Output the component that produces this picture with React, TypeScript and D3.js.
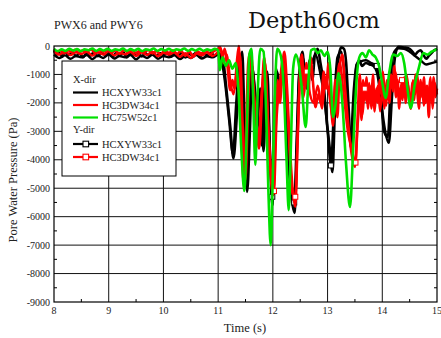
import React from "react";
import * as d3 from "d3";

const W = 441, H = 338;
const M = { left: 54, right: 437, top: 46, bottom: 302 };

const xTicks = [8, 9, 10, 11, 12, 13, 14, 15];
const yTicks = [0, -1000, -2000, -3000, -4000, -5000, -6000, -7000, -8000, -9000];

const blackX: [number, number][] = [
  [8.0,-150],[8.05,-300],[8.1,-250],[8.15,-380],[8.2,-220],[8.27,-320],[8.33,-200],[8.4,-350],[8.47,-260],[8.53,-400],[8.6,-240],[8.67,-330],[8.73,-210],[8.8,-360],[8.87,-250],[8.93,-300],[9.0,-200],[9.07,-380],[9.13,-260],[9.2,-320],[9.27,-230],[9.33,-400],[9.4,-250],[9.47,-300],[9.53,-220],[9.6,-370],[9.67,-260],[9.73,-330],[9.8,-210],[9.87,-390],[9.93,-250],[10.0,-310],[10.07,-230],[10.13,-380],[10.2,-260],[10.27,-340],[10.33,-220],[10.4,-400],[10.47,-280],[10.53,-320],[10.6,-240],[10.67,-380],[10.73,-260],[10.8,-330],[10.87,-230],[10.93,-350],[11.0,-260],
  [11.05,-300],[11.1,-600],[11.15,-1500],[11.22,-2800],[11.28,-3950],[11.34,-2500],[11.39,-800],[11.44,-200],[11.48,-2500],[11.53,-5130],[11.58,-3000],[11.62,-800],[11.67,-1500],[11.72,-2500],[11.77,-1500],[11.83,-3700],[11.88,-1500],[11.92,-2500],[11.95,-4000],[11.99,-5600],[12.03,-3000],[12.06,-800],[12.1,-1800],[12.15,-1200],[12.2,-400],[12.25,-2500],[12.3,-4500],[12.4,-5870],[12.44,-3500],[12.47,-1500],[12.5,-600],[12.54,-200],[12.58,-1000],[12.62,-1500],[12.67,-500],[12.72,-1200],[12.77,-300],[12.82,-100],[12.87,-600],[12.92,-1200],[12.98,-2500],[13.04,-3600],[13.09,-4430],[13.13,-2500],[13.17,-1000],[13.21,-300],[13.25,-50],[13.3,-100],[13.34,-600],[13.38,-2000],[13.43,-3600],[13.48,-2000],[13.53,-700],[13.58,-500],[13.63,-700],[13.7,-600],[13.77,-650],[13.84,-700],[13.9,-900],[13.96,-1600],[14.02,-2600],[14.12,-3400],[14.17,-2000],[14.21,-800],[14.25,-200],[14.3,-30],[14.4,-50],[14.5,-100],[14.55,-200],[14.6,-300],[14.65,-200],[14.7,-150],[14.75,-300],[14.8,-450],[14.85,-350],[14.9,-250],[14.95,-150],[15.0,-100]
];

const redX: [number, number][] = [
  [8.0,-120],[8.06,-200],[8.12,-150],[8.18,-260],[8.25,-140],[8.32,-220],[8.38,-130],[8.45,-240],[8.52,-160],[8.6,-200],[8.68,-120],[8.75,-250],[8.82,-150],[8.9,-210],[8.97,-130],[9.05,-230],[9.12,-160],[9.2,-280],[9.27,-150],[9.35,-200],[9.42,-130],[9.5,-250],[9.57,-170],[9.65,-220],[9.72,-140],[9.8,-260],[9.87,-180],[9.95,-300],[10.02,-160],[10.1,-240],[10.17,-150],[10.25,-280],[10.32,-170],[10.4,-350],[10.47,-190],[10.55,-380],[10.62,-200],[10.7,-260],[10.77,-150],[10.85,-300],[10.92,-180],[11.0,-100],
  [11.04,-50],[11.08,-400],[11.12,-100],[11.17,-700],[11.22,-1550],[11.26,-1200],[11.3,-1500],[11.34,-600],[11.38,0],[11.42,-2500],[11.47,-4880],[11.51,-3000],[11.55,-600],[11.59,-200],[11.64,-1500],[11.7,-2800],[11.75,-3600],[11.8,-1800],[11.84,-400],[11.88,-1500],[11.93,-3500],[11.97,-4800],[12.01,-5240],[12.05,-3000],[12.09,-1200],[12.13,-2000],[12.17,-800],[12.21,-200],[12.26,-1500],[12.31,-3500],[12.36,-5000],[12.41,-5650],[12.45,-3500],[12.49,-1200],[12.53,-300],[12.57,-1400],[12.61,-600],[12.65,-1600],[12.69,-400],[12.73,-1200],[12.78,-2150],[12.83,-1700],[12.88,-2000],[12.93,-900],[12.97,-1500],[13.02,-600],[13.06,-1900],[13.1,-2800],[13.14,-1200],[13.18,-2500],[13.22,-800],[13.27,-300],[13.32,-1500],[13.38,-2800],[13.44,-3800],[13.5,-4250],[13.55,-2500],[13.59,-1000],[13.62,-2600],[13.65,-1200],[13.68,-1900],[13.71,-1100],[13.74,-2200],[13.77,-1400],[13.8,-1800],[13.83,-1000],[13.86,-2300],[13.89,-1500],[13.92,-2000],[13.95,-1200],[13.98,-1700],[14.01,-900],[14.04,-1600],[14.07,-2100],[14.1,-1300],[14.13,-2000],[14.16,-1000],[14.19,-1500],[14.22,-700],[14.25,-1800],[14.28,-1200],[14.31,-2200],[14.34,-1400],[14.37,-1900],[14.4,-1100],[14.43,-2000],[14.46,-1300],[14.49,-1700],[14.52,-2200],[14.55,-1300],[14.58,-1900],[14.61,-1000],[14.64,-1600],[14.67,-2200],[14.7,-1200],[14.73,-1800],[14.76,-1100],[14.79,-2000],[14.82,-1400],[14.85,-2500],[14.88,-1300],[14.91,-2000],[14.94,-1100],[14.97,-1800],[15.0,-1500]
];

const greenX: [number, number][] = [
  [8.0,-100],[8.07,-180],[8.14,-120],[8.21,-170],[8.28,-100],[8.35,-160],[8.42,-110],[8.49,-180],[8.56,-120],[8.63,-150],[8.7,-90],[8.77,-170],[8.84,-110],[8.91,-160],[8.98,-100],[9.05,-170],[9.12,-120],[9.19,-150],[9.26,-90],[9.33,-170],[9.4,-110],[9.47,-160],[9.54,-100],[9.61,-180],[9.68,-120],[9.75,-150],[9.82,-90],[9.89,-170],[9.96,-110],[10.03,-160],[10.1,-100],[10.17,-170],[10.24,-120],[10.31,-150],[10.38,-90],[10.45,-170],[10.52,-110],[10.59,-160],[10.66,-100],[10.73,-170],[10.8,-120],[10.87,-160],[10.94,-100],[11.0,-150],
  [11.03,-850],[11.08,-400],[11.14,-700],[11.2,-500],[11.26,-800],[11.32,-600],[11.37,-1500],[11.42,-3500],[11.48,-5100],[11.53,-2500],[11.57,-300],[11.61,-100],[11.64,-1800],[11.68,-4180],[11.72,-1800],[11.77,-100],[11.83,-200],[11.88,-2500],[11.92,-5200],[11.96,-7000],[12.0,-4500],[12.04,-1500],[12.08,-100],[12.14,-300],[12.2,-1500],[12.25,-4000],[12.29,-5770],[12.33,-3500],[12.37,-800],[12.42,-300],[12.47,-600],[12.53,-1500],[12.6,-2850],[12.65,-1200],[12.7,-150],[12.76,-100],[12.82,-250],[12.88,-150],[12.94,-350],[13.0,-200],[13.05,-800],[13.1,-2500],[13.15,-2000],[13.2,-950],[13.27,-2000],[13.34,-4200],[13.41,-5660],[13.47,-3500],[13.53,-1200],[13.58,-400],[13.64,-250],[13.7,-400],[13.76,-150],[13.82,-300],[13.88,-400],[13.94,-700],[14.0,-1300],[14.06,-1830],[14.13,-900],[14.2,-300],[14.27,-350],[14.34,-250],[14.4,-600],[14.46,-1500],[14.52,-2180],[14.59,-1400],[14.67,-750],[14.75,-250],[14.83,-300],[14.9,-200],[14.96,-150],[15.0,-100]
];

const blackY: [number, number][] = [
  [8.0,-300],[8.1,-420],[8.2,-330],[8.3,-450],[8.4,-350],[8.5,-400],[8.6,-320],[8.7,-460],[8.8,-340],[8.9,-420],[9.0,-300],[9.1,-440],[9.2,-350],[9.3,-400],[9.4,-320],[9.5,-470],[9.6,-340],[9.7,-420],[9.8,-310],[9.9,-450],[10.0,-350],[10.1,-400],[10.2,-330],[10.3,-460],[10.4,-350],[10.5,-420],[10.6,-320],[10.7,-440],[10.8,-360],[10.9,-400],[11.0,-300],
  [11.06,-500],[11.12,-1200],[11.2,-2600],[11.27,-3800],[11.33,-2000],[11.4,-500],[11.46,-3000],[11.52,-4900],[11.57,-2500],[11.62,-700],[11.68,-1800],[11.74,-2600],[11.8,-3500],[11.85,-1400],[11.9,-900],[11.95,-3800],[11.99,-5300],[12.04,-2600],[12.08,-900],[12.14,-1500],[12.2,-600],[12.27,-3000],[12.33,-5000],[12.39,-5500],[12.44,-3000],[12.48,-1000],[12.55,-400],[12.62,-1200],[12.7,-700],[12.78,-300],[12.86,-900],[12.94,-1800],[13.0,-3000],[13.06,-4200],[13.12,-2000],[13.18,-400],[13.25,-200],[13.3,-800],[13.36,-2000],[13.42,-3300],[13.48,-1500],[13.53,-650],[13.6,-550],[13.7,-500],[13.8,-600],[13.9,-700],[13.97,-1700],[14.03,-3000],[14.1,-3200],[14.16,-1000],[14.22,-200],[14.3,-80],[14.4,-100],[14.5,-200],[14.6,-350],[14.7,-500],[14.8,-650],[14.9,-600],[15.0,-550]
];

const redY: [number, number][] = [
  [8.0,-200],[8.1,-300],[8.2,-180],[8.3,-320],[8.4,-220],[8.5,-280],[8.6,-200],[8.7,-340],[8.8,-230],[8.9,-300],[9.0,-190],[9.1,-330],[9.2,-240],[9.3,-290],[9.4,-210],[9.5,-350],[9.6,-230],[9.7,-310],[9.8,-200],[9.9,-360],[10.0,-240],[10.1,-300],[10.2,-220],[10.3,-380],[10.4,-250],[10.5,-420],[10.6,-260],[10.7,-330],[10.8,-220],[10.9,-350],[11.0,-200],
  [11.05,-100],[11.1,-600],[11.16,-300],[11.22,-1200],[11.28,-1700],[11.34,-900],[11.4,-300],[11.45,-2800],[11.5,-4700],[11.55,-2000],[11.6,-300],[11.67,-2000],[11.74,-3200],[11.8,-1500],[11.86,-600],[11.92,-3000],[11.97,-4500],[12.02,-5100],[12.07,-2500],[12.12,-1500],[12.18,-500],[12.24,-1200],[12.3,-3500],[12.36,-5200],[12.41,-5300],[12.46,-2800],[12.51,-800],[12.56,-1800],[12.62,-900],[12.68,-1700],[12.75,-2000],[12.82,-1400],[12.9,-2200],[12.96,-1100],[13.03,-1700],[13.1,-2600],[13.16,-1500],[13.22,-600],[13.3,-1800],[13.37,-3000],[13.44,-3600],[13.51,-4100],[13.55,-2800],[13.6,-1800],[13.64,-2400],[13.68,-1500],[13.72,-2000],[13.76,-1300],[13.8,-2200],[13.84,-1600],[13.88,-1900],[13.92,-1400],[13.96,-2300],[14.0,-1500],[14.04,-2200],[14.08,-1200],[14.12,-1800],[14.16,-1100],[14.2,-1600],[14.24,-900],[14.28,-1500],[14.32,-1900],[14.36,-1200],[14.4,-1800],[14.44,-1000],[14.48,-1500],[14.52,-2000],[14.56,-1200],[14.6,-1700],[14.64,-1000],[14.68,-1900],[14.72,-1300],[14.76,-2100],[14.8,-1400],[14.84,-1800],[14.88,-1100],[14.92,-2200],[14.96,-1300],[15.0,-1700]
];

const legendX = ["HCXYW33c1", "HC3DW34c1", "HC75W52c1"];
const legendY = ["HCXYW33c1", "HC3DW34c1"];

const BLACK = "#000000";
const RED = "#ff0000";
const GREEN = "#00e000";
const serif = "'Liberation Serif', 'Times New Roman', serif";

export default function App() {
  const x = d3.scaleLinear().domain([8, 15]).range([M.left, M.right]);
  const y = d3.scaleLinear().domain([0, -9000]).range([M.top, M.bottom]);
  const line = d3
    .line<[number, number]>()
    .x((d) => x(d[0]))
    .y((d) => y(d[1]))
    .curve(d3.curveMonotoneX);

  const minorX = d3.range(8.5, 15, 1);
  const minorY = d3.range(-500, -9000, -1000);

  // markers: only at local minima deeper than -3900 or a few late points, as most squares are hidden in dense data
  const markerPts = (arr: [number, number][]) =>
    arr.filter((d, i) => {
      if (d[0] < 11.9) return false;
      const prev = arr[i - 1], next = arr[i + 1];
      const isMin = prev && next && d[1] < prev[1] && d[1] < next[1];
      return (isMin && d[1] < -3900) || i % 17 === 8;
    });

  const series = [
    { data: blackX, color: BLACK, w: 2.6, marks: false },
    { data: blackY, color: BLACK, w: 2.4, marks: true },
    { data: redX, color: RED, w: 2.6, marks: false },
    { data: redY, color: RED, w: 2.4, marks: true },
    { data: greenX, color: GREEN, w: 2.6, marks: false },
  ];

  const legRows = [
    { label: legendX[0], color: BLACK, y: 92.5, mark: false },
    { label: legendX[1], color: RED, y: 105, mark: false },
    { label: legendX[2], color: GREEN, y: 117.5, mark: false },
    { label: legendY[0], color: BLACK, y: 144, mark: true },
    { label: legendY[1], color: RED, y: 157, mark: true },
  ];

  return (
    <svg
      width={W}
      height={H}
      style={{ position: "absolute", left: 0, top: 0, background: "#fff" }}
      fontFamily={serif}
    >
      <rect x={0} y={0} width={W} height={H} fill="#fff" />
      <text x={54} y={29} fontSize={12} fill="#222">PWX6 and PWY6</text>
      <text x={248} y={28} fontSize={22.5} fontFamily="'DejaVu Serif', serif" fill="#111">Depth60cm</text>

      {xTicks.slice(1, -1).map((t) => (
        <line key={"gx" + t} x1={x(t)} x2={x(t)} y1={M.top} y2={M.bottom} stroke="#111" strokeWidth={1} />
      ))}
      {yTicks.slice(1, -1).map((v) => (
        <line key={"gy" + v} x1={M.left} x2={M.right} y1={y(v)} y2={y(v)} stroke="#111" strokeWidth={1} />
      ))}

      {minorX.map((t) => (
        <line key={"mx" + t} x1={x(t)} x2={x(t)} y1={M.bottom} y2={M.bottom - 3} stroke="#000" />
      ))}
      {minorY.map((v) => (
        <g key={"my" + v}>
          <line x1={M.left} x2={M.left + 3} y1={y(v)} y2={y(v)} stroke="#000" />
          <line x1={M.right} x2={M.right - 3} y1={y(v)} y2={y(v)} stroke="#000" />
        </g>
      ))}

      {series.map((s, i) => (
        <g key={"s" + i}>
          <path d={line(s.data) || ""} fill="none" stroke={s.color} strokeWidth={s.w} strokeLinejoin="round" />
          {s.marks &&
            markerPts(s.data).map((d, j) => (
              <rect key={j} x={x(d[0]) - 2.5} y={y(d[1]) - 2.5} width={5} height={5} fill="#fff" stroke={s.color} strokeWidth={1} />
            ))}
        </g>
      ))}

      <rect x={M.left} y={M.top} width={M.right - M.left} height={M.bottom - M.top} fill="none" stroke="#000" strokeWidth={1.2} />

      {yTicks.map((v) => (
        <text key={"yl" + v} x={50} y={y(v) + 3.5} fontSize={10} textAnchor="end" fill="#222">
          {v}
        </text>
      ))}
      {xTicks.map((t) => (
        <text key={"xl" + t} x={x(t)} y={314} fontSize={10} textAnchor="middle" fill="#222">
          {t}
        </text>
      ))}
      <text x={245} y={332} fontSize={12.5} textAnchor="middle" fill="#222">Time (s)</text>
      <text transform="translate(17,180) rotate(-90)" fontSize={12.5} textAnchor="middle" fill="#222">
        Pore Water Pressure (Pa)
      </text>

      <rect x={62} y={61} width={114} height={115} fill="#fff" stroke="#000" strokeWidth={1} />
      <text x={73} y={83} fontSize={10.5} fill="#222">X-dir</text>
      <text x={73} y={133} fontSize={10.5} fill="#222">Y-dir</text>
      {legRows.map((r, i) => (
        <g key={"lg" + i}>
          <line x1={73} x2={98} y1={r.y} y2={r.y} stroke={r.color} strokeWidth={2.2} />
          {r.mark && <rect x={83} y={r.y - 2.8} width={5.6} height={5.6} fill="#fff" stroke={r.color} strokeWidth={1.1} />}
          <text x={102} y={r.y + 3.8} fontSize={10.5} fill="#222">{r.label}</text>
        </g>
      ))}
    </svg>
  );
}
